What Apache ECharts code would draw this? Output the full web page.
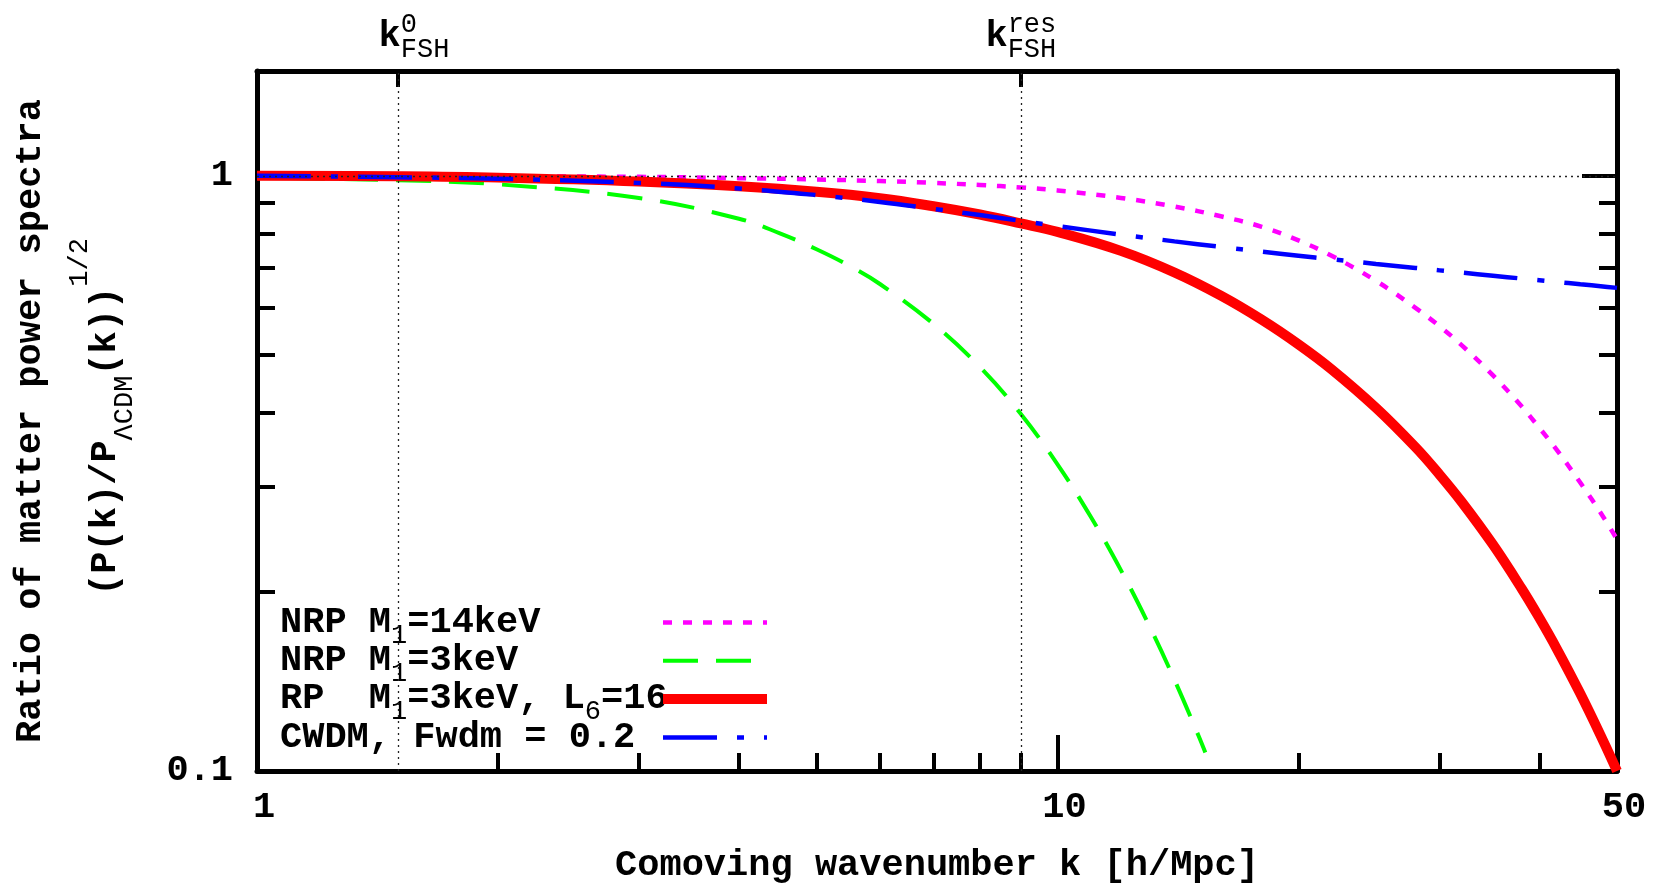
<!DOCTYPE html>
<html>
<head>
<meta charset="utf-8">
<script src="https://cdn.jsdelivr.net/npm/echarts@6/dist/echarts.min.js"></script>
<style>
html, body { margin: 0; padding: 0; background: #fff; }
#chart { width: 1656px; height: 885px; }
</style>
</head>
<body>
<div id="chart"></div>
<script>
// wavenumbers k [h/Mpc]
var kAll = [1, 1.5, 2, 3, 4, 5, 6, 7, 8, 9, 10, 12, 14, 16, 18, 20, 22, 25, 28, 30, 32, 35, 38, 40, 42, 45, 48, 50];
var nrp14 = [1.0, 0.999, 0.998, 0.996, 0.991, 0.986, 0.98, 0.973, 0.965, 0.956, 0.945, 0.918, 0.888, 0.855, 0.821, 0.779, 0.734, 0.666, 0.60, 0.559, 0.519, 0.462, 0.41, 0.377, 0.347, 0.305, 0.268, 0.245];
var rp3 = [1.0, 0.998, 0.993, 0.978, 0.96, 0.94, 0.917, 0.889, 0.861, 0.832, 0.805, 0.748, 0.688, 0.629, 0.573, 0.521, 0.473, 0.4075, 0.35, 0.315, 0.283, 0.24, 0.2026, 0.1807, 0.1609, 0.1348, 0.1127, 0.1];
var cwdm = [1.0, 0.9945, 0.9888, 0.973, 0.9522, 0.928, 0.904, 0.88, 0.859, 0.84, 0.8233, 0.7966, 0.776, 0.7596, 0.7459, 0.7342, 0.7241, 0.7112, 0.7002, 0.6936, 0.6876, 0.6794, 0.672, 0.6675, 0.6633, 0.6573, 0.6518, 0.6482];
var kGreen = [1, 1.5, 2, 3, 4, 4.5, 5, 5.5, 6, 7, 8, 9, 10, 11, 12, 13, 14, 15, 15.3];
var nrp3 = [0.993, 0.983, 0.9676, 0.918, 0.847, 0.8003, 0.7526, 0.7055, 0.658, 0.5639, 0.4773, 0.398, 0.3275, 0.2676, 0.2175, 0.1762, 0.1423, 0.1147, 0.1074];

var kFsh = [1.5, 9];
var xMajor = [1, 10, 50];
var xMinor = [2, 3, 4, 5, 6, 7, 8, 9, 20, 30, 40];
var yMajor = [0.1, 1];
var yMinor = [0.2, 0.3, 0.4, 0.5, 0.6, 0.7, 0.8, 0.9];

var legendLabels = [
    '{m|NRP M}{s|1}{m|=14keV}',
    '{m|NRP M}{s|1}{m|=3keV}',
    '{m|RP  M}{s|1}{m|=3keV, L}{s|6}{m|=16}',
    '{m|CWDM, Fwdm = 0.2}'
];

var FONT = 'Liberation Mono';

function pairs(xs, ys) {
    return xs.map(function (x, i) { return [x, ys[i]]; });
}

var mainTxt = { fontFamily: FONT, fontWeight: 'bold', fontSize: 37, lineHeight: 53, verticalAlign: 'middle', align: 'left', color: '#000', fill: '#000' };
var subTxt = { fontFamily: FONT, fontWeight: 'normal', fontSize: 27, lineHeight: 18, verticalAlign: 'bottom', align: 'left', color: '#000', fill: '#000' };
var supTxt = { fontFamily: FONT, fontWeight: 'normal', fontSize: 27, lineHeight: 18, verticalAlign: 'top', align: 'left', color: '#000', fill: '#000' };

var styles = [
    { color: '#ff00ff', width: 4.5, type: [9, 11] },
    { color: '#00ff00', width: 4, type: [35, 18], dashOffset: 20 },
    { color: '#ff0000', width: 10, type: 'solid' },
    { color: '#0000ff', width: 4.5, type: [54, 20, 7, 20] }
];

function axisBase(extra) {
    return Object.assign({
        type: 'log',
        logBase: 10,
        splitLine: { show: false },
        axisLine: { show: false },
        axisTick: { show: false },
        axisLabel: { show: false }
    }, extra);
}

var frameLine = { show: true, lineStyle: { color: '#000', width: 5 } };

function ticks(values, len) {
    return { show: true, inside: true, length: len, customValues: values, lineStyle: { color: '#000', width: 4 } };
}

var myChart = echarts.init(document.getElementById('chart'));

var graphics = [];
// axis titles
graphics.push({
    type: 'text', x: 31, y: 421, rotation: Math.PI / 2,
    style: {
        text: 'Ratio of matter power spectra', fill: '#000',
        font: 'bold 37px "Liberation Mono"',
        align: 'center', textAlign: 'center', verticalAlign: 'middle', textVerticalAlign: 'middle'
    }
});
graphics.push({
    type: 'text', x: 106, y: 417, rotation: Math.PI / 2,
    style: {
        text: '{m|(P(k)/P}{s|ΛCDM}{m|(k))}{p|1/2}', fill: '#000',
        rich: {
            m: Object.assign({}, mainTxt, { lineHeight: 79 }),
            s: Object.assign({}, subTxt, { padding: [0, 0, 7, 0] }),
            p: supTxt
        },
        align: 'center', textAlign: 'center', verticalAlign: 'middle', textVerticalAlign: 'middle'
    }
});
graphics.push({
    type: 'text', x: 937, y: 866,
    style: {
        text: 'Comoving wavenumber k [h/Mpc]', fill: '#000',
        font: 'bold 37px "Liberation Mono"',
        align: 'center', textAlign: 'center', verticalAlign: 'middle', textVerticalAlign: 'middle'
    }
});
// legend
legendLabels.forEach(function (txt, i) {
    var y = 622.5 + i * 38.3;
    graphics.push({
        type: 'text', x: 280, y: y,
        style: {
            text: txt, fill: '#000',
            rich: { m: mainTxt, s: subTxt },
            align: 'left', textAlign: 'left', verticalAlign: 'middle', textVerticalAlign: 'middle'
        }
    });
});
legendLabels.forEach(function (txt, i) {
    var y = 622.5 + i * 38.3;
    var st = styles[i];
    graphics.push({
        type: 'line',
        shape: { x1: 663, y1: y, x2: 767, y2: y },
        style: {
            stroke: st.color, lineWidth: st.width,
            lineDash: st.type === 'solid' ? null : st.type
        }
    });
});

var option = {
    animation: false,
    backgroundColor: '#fff',
    grid: { left: 257, right: 39, top: 71, bottom: 114, containLabel: false },
    xAxis: [
        axisBase({
            position: 'bottom', min: 1, max: 50,
            axisLine: frameLine,
            axisTick: ticks(xMajor, 36),
            axisLabel: {
                show: true, customValues: xMajor, margin: 18,
                fontFamily: FONT, fontWeight: 'bold', fontSize: 37, color: '#000',
                padding: [0, 0, 0, 14],
                formatter: function (v) { return String(v); }
            }
        }),
        axisBase({
            position: 'bottom', min: 1, max: 50,
            axisTick: ticks(xMinor, 18)
        }),
        axisBase({
            position: 'top', min: 1, max: 50,
            axisLine: frameLine,
            axisTick: ticks(kFsh, 16),
            axisLabel: {
                show: true, customValues: kFsh, margin: 8,
                formatter: function (v) {
                    return v < 4 ? '{sp| }{k|k}{sup|0}{sub|FSH}' : '{k|k}{sup|res}{sub|FSH}';
                },
                rich: {
                    sp: { width: 32, align: 'left' },
                    k: Object.assign({}, mainTxt, { lineHeight: 52 }),
                    sup: Object.assign({}, supTxt, { width: 0 }),
                    sub: subTxt
                }
            }
        })
    ],
    yAxis: [
        axisBase({
            position: 'left', min: 0.1, max: 1.5,
            axisLine: frameLine,
            axisTick: ticks(yMajor, 35),
            axisLabel: {
                show: true, customValues: yMajor, margin: 24,
                fontFamily: FONT, fontWeight: 'bold', fontSize: 37, color: '#000',
                formatter: function (v) { return String(v); }
            }
        }),
        axisBase({
            position: 'left', min: 0.1, max: 1.5,
            axisTick: ticks(yMinor, 18)
        }),
        axisBase({
            position: 'right', min: 0.1, max: 1.5,
            axisLine: frameLine,
            axisTick: ticks(yMajor, 35)
        }),
        axisBase({
            position: 'right', min: 0.1, max: 1.5,
            axisTick: ticks(yMinor, 18)
        })
    ],
    graphic: graphics,
    series: [
        {
            name: 'NRP M1=14keV', type: 'line', xAxisIndex: 0, yAxisIndex: 0,
            data: pairs(kAll, nrp14), showSymbol: false, symbol: 'none', smooth: 0.4,
            lineStyle: styles[0], clip: true,
            markLine: {
                silent: true, symbol: 'none', label: { show: false },
                lineStyle: { color: '#222', width: 1.3, type: [2, 4] },
                data: [{ xAxis: kFsh[0] }, { xAxis: kFsh[1] }, { yAxis: 1 }]
            }
        },
        {
            name: 'NRP M1=3keV', type: 'line', xAxisIndex: 0, yAxisIndex: 0,
            data: pairs(kGreen, nrp3), showSymbol: false, symbol: 'none', smooth: 0.4,
            lineStyle: styles[1], clip: true
        },
        {
            name: 'RP M1=3keV, L6=16', type: 'line', xAxisIndex: 0, yAxisIndex: 0,
            data: pairs(kAll, rp3), showSymbol: false, symbol: 'none', smooth: 0.4,
            lineStyle: styles[2], clip: true
        },
        {
            name: 'CWDM, Fwdm = 0.2', type: 'line', xAxisIndex: 0, yAxisIndex: 0,
            data: pairs(kAll, cwdm), showSymbol: false, symbol: 'none', smooth: 0.4,
            lineStyle: styles[3], clip: true
        }
    ]
};
myChart.setOption(option);
window.addEventListener('resize', function () {
    myChart.resize();
});
</script>
</body>
</html>
